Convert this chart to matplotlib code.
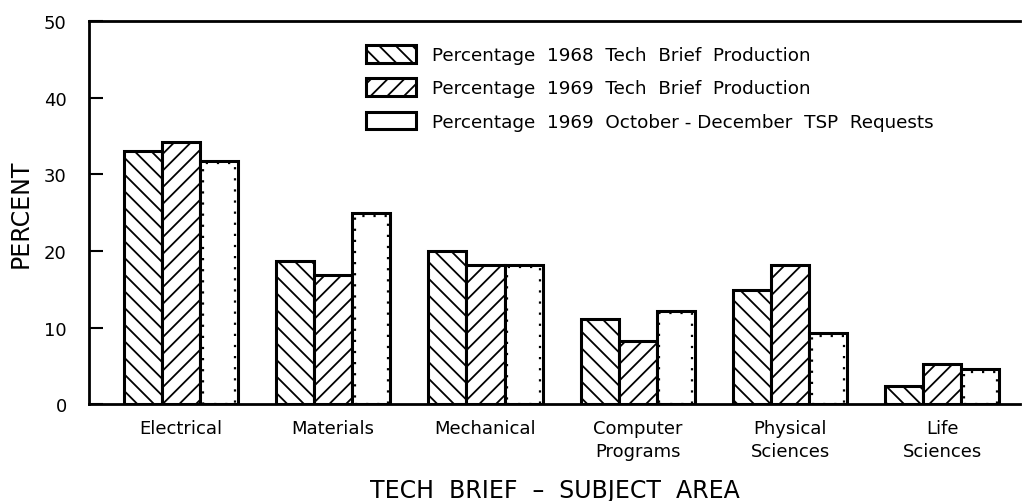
import numpy as np
import matplotlib
matplotlib.use('Agg')
import matplotlib.pyplot as plt

categories = ['Electrical', 'Materials', 'Mechanical',
              'Computer\nPrograms', 'Physical\nSciences', 'Life\nSciences']
tb_1968 = [33.1, 18.7, 20.0, 11.1, 14.9, 2.4]
tb_1969 = [34.2, 16.8, 18.1, 8.3, 18.2, 5.3]
tsp_1969 = [31.8, 24.9, 18.2, 12.2, 9.3, 4.6]
series_labels = ['Percentage  1968  Tech  Brief  Production',
                 'Percentage  1969  Tech  Brief  Production',
                 'Percentage  1969  October - December  TSP  Requests']
y_ticks = [0, 10, 20, 30, 40, 50]

plt.rcParams['font.family'] = 'DejaVu Sans'
plt.rcParams['hatch.linewidth'] = 1.3

fig = plt.figure(figsize=(10.23, 5.02), dpi=100)
ax = fig.add_axes([0.087, 0.193, 0.91, 0.763])

x = np.arange(len(categories))
w = 0.25
bar_kw = dict(facecolor='white', edgecolor='black', linewidth=2.2)
ax.bar(x - w, tb_1968, w, hatch='\\\\', label=series_labels[0], **bar_kw)
ax.bar(x, tb_1969, w, hatch='//', label=series_labels[1], **bar_kw)
ax.bar(x + w, tsp_1969, w, label=series_labels[2], **bar_kw)
# dotted inner edge of the TSP bars
ax.bar(x + w, np.array(tsp_1969) - 0.35, w * 0.86, fill=False,
       edgecolor='black', linewidth=1.6, linestyle=(0, (1, 4)))

ax.set_xlim(-0.604, 5.51)
ax.set_ylim(0, 50)
ax.set_yticks(y_ticks)
ax.tick_params(axis='y', direction='in', length=10, width=1.5, pad=16, labelsize=13)
ax.set_xticks(x, categories)
ax.tick_params(axis='x', length=0, pad=11, labelsize=13)
for lab in ax.get_xticklabels():
    lab.set_linespacing(1.35)

for side in ['left', 'top', 'bottom']:
    ax.spines[side].set_linewidth(2)
ax.spines['right'].set_visible(False)

ax.set_xlabel('TECH  BRIEF  \u2013  SUBJECT  AREA', fontsize=17, labelpad=13)
ax.set_ylabel('PERCENT', fontsize=17, labelpad=8)

ax.legend(loc='upper left', bbox_to_anchor=(366 / 1023, 1 - 46 / 502),
          bbox_transform=fig.transFigure, frameon=False, fontsize=13.2,
          handlelength=2.75, handleheight=1.1, handletextpad=0.85,
          labelspacing=0.78, borderpad=0, borderaxespad=0)

fig.savefig('out.png', dpi=100)
